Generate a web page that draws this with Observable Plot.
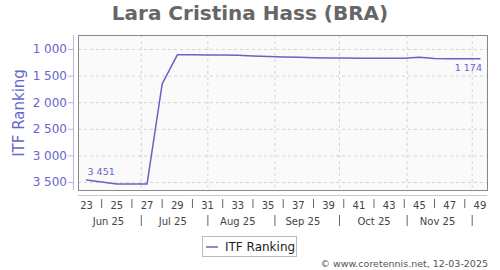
<!DOCTYPE html>
<html><head><meta charset="utf-8">
<script src="https://cdn.jsdelivr.net/npm/d3@7"></script>
<script src="https://cdn.jsdelivr.net/npm/@observablehq/plot@0.6"></script>
<style>
body{margin:0;background:#fff;font-family:"DejaVu Sans",sans-serif;}
#wrap{position:relative;width:500px;height:270px;overflow:hidden;background:#fff;}
#title{position:absolute;left:0;top:0;width:500px;text-align:center;font-size:20px;font-weight:bold;color:#666;line-height:26px;}
#ytitle{position:absolute;left:19.4px;top:112.5px;transform:translate(-50%,-50%) rotate(-90deg);font-size:15px;color:#6666cc;white-space:nowrap;line-height:normal;}
#chart{position:absolute;left:0;top:30px;}
#legend{position:absolute;left:202px;top:236px;width:93px;height:19px;border:1px solid #bbb;background:#fff;font-size:12px;color:#222;display:flex;align-items:center;}
#legend svg{margin-left:3px;margin-right:7px;}
#caption{position:absolute;right:12px;top:258px;font-size:9.5px;color:#555;line-height:11px;white-space:nowrap;}
</style></head>
<body>
<div id="wrap">
  <div id="title">Lara Cristina Hass (BRA)</div>
  <div id="ytitle">ITF Ranking</div>
  <div id="chart"></div>
  <div id="legend"><svg width="12" height="10"><line x1="0" x2="12" y1="5" y2="5" stroke="#6464c8" stroke-width="1.5"/></svg><span>ITF Ranking</span></div>
  <div id="caption">© www.coretennis.net, 12-03-2025</div>
</div>
<script>
const weeks = [23,24,25,26,27,28,29,30,31,32,33,34,35,36,37,38,39,40,41,42,43,44,45,46,47,48,49];
const ranking = [3451,3490,3530,3530,3530,1645,1100,1100,1102,1105,1110,1120,1130,1140,1145,1155,1160,1162,1163,1163,1163,1163,1145,1168,1172,1174,1174];
const weekLabels = [23,25,27,29,31,33,35,37,39,41,43,45,47,49];
const weekSeparators = [24,26,28,30,32,34,36,38,40,42,44,46,48];
const monthLabels = ["Jun 25","Jul 25","Aug 25","Sep 25","Oct 25","Nov 25"];
const monthLabelWeeks = [24.45,28.7,33.0,37.3,42.0,46.2];
const monthBounds = [26.62,31.02,35.45,39.72,44.19,48.49];
const yTicks = [1000,1500,2000,2500,3000,3500];
const xDomain = [22.47,49.5];
const yDomain = [3650,737];

const fmt = d3.formatLocale({decimal:".", thousands:" ", grouping:[3], currency:["",""]}).format(",");
const data = weeks.map((w,i)=>({week:w, rank:ranking[i]}));
const first = data[0], last = data[data.length-1];

const chart = Plot.plot({
  width:500, height:205, marginTop:5, marginBottom:45, marginLeft:78, marginRight:13,
  style:{fontFamily:"DejaVu Sans, sans-serif", fontSize:"10px", background:"transparent", overflow:"visible"},
  x:{domain:xDomain, axis:null, label:null},
  y:{domain:yDomain, axis:null, label:null},
  marks:[
    Plot.frame({fill:"#fafafa"}),
    Plot.gridY(yTicks, {stroke:"#d4d4d4", strokeOpacity:1, strokeDasharray:"3,3"}),
    Plot.gridX(monthBounds, {stroke:"#d4d4d4", strokeOpacity:1, strokeDasharray:"3,3"}),
    Plot.ruleX([xDomain[0]], {dx:-5, stroke:"#b8b8e0"}),
    Plot.axisY(yTicks, {label:null, tickSize:5, dx:-5, tickPadding:1.5, tickFormat:fmt, fill:"#6666cc", stroke:"#b8b8e0", fontSize:12}),
    Plot.ruleY([yDomain[0]], {dy:5, stroke:"#c8c8c8"}),
    Plot.axisX(weekLabels, {label:null, tickSize:0, tickPadding:11, fontSize:10, fill:"#444"}),
    Plot.axisX(weekSeparators, {label:null, tickSize:9, dy:9, tickFormat:()=>"", stroke:"#666"}),
    Plot.axisX(monthLabelWeeks, {label:null, tickSize:0, tickPadding:27, tickFormat:d=>monthLabels[monthLabelWeeks.indexOf(d)], fontSize:10, fill:"#444"}),
    Plot.axisX(monthBounds, {label:null, tickSize:11, dy:25, tickFormat:()=>"", stroke:"#666"}),
    Plot.line(data, {x:"week", y:"rank", stroke:"#6464c8", strokeWidth:1.5}),
    Plot.text([first], {x:"week", y:"rank", text:d=>fmt(d.rank), textAnchor:"start", dx:1, dy:-8, fill:"#6666cc", fontSize:9.5}),
    Plot.text([last], {x:"week", y:"rank", text:d=>fmt(d.rank), textAnchor:"end", dx:2, dy:9, fill:"#6666cc", fontSize:9.5}),
    Plot.frame({stroke:"#888"})
  ]
});
document.getElementById("chart").appendChild(chart);
</script>
</body></html>
